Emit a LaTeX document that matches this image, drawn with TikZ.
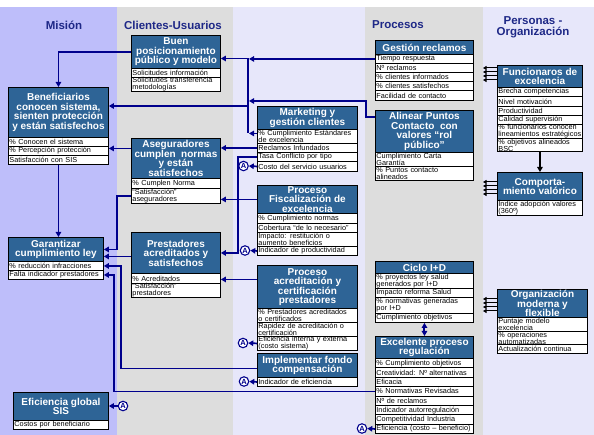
\documentclass[tikz,border=0pt]{standalone}
\usepackage{fontspec}
\setmainfont{Liberation Sans}
\usetikzlibrary{arrows.meta,calc}

\definecolor{misionbg}{RGB}{190,190,250}
\definecolor{graybg}{RGB}{221,221,221}
\definecolor{palebg}{RGB}{231,231,250}
\definecolor{titlefill}{RGB}{46,100,150}
\definecolor{navy}{RGB}{0,0,140}
\definecolor{headblue}{RGB}{30,40,135}

\begin{document}
\begin{tikzpicture}[x=1pt,y=-1pt,
  ttl/.style={anchor=north west, draw=black, line width=0.9pt, fill=titlefill,
    text=white, font=\bfseries\fontsize{10}{9.5}\selectfont, align=center, inner sep=0pt},
  row/.style={anchor=north west, draw=black, line width=0.9pt, fill=white,
    font=\fontsize{7.3}{7}\selectfont, align=left, inner xsep=1pt, inner ysep=0pt},
  rowM/.style={row, text width=98pt},
  rowG/.style={row, text width=93pt},
  rowC/.style={row, text width=87pt},
  rowP/.style={row, text width=98pt},
  rowR/.style={row, text width=96pt},
  rowF/.style={row, text width=83pt},
  rowO/.style={row, text width=88pt},
  head/.style={text=headblue, font=\bfseries\fontsize{11.5}{11}\selectfont, align=center, inner sep=0pt},
  acirc/.style={circle, draw=navy, line width=1.1pt, fill=white, text=navy,
    font=\bfseries\fontsize{7.5}{7}\selectfont, inner sep=0pt, minimum size=9.5pt},
  tip/.tip={Triangle[length=5pt,width=5.5pt]},
  conn/.style={draw=navy, line width=1.7pt, -tip},
  busline/.style={draw=navy, line width=1.7pt},
  dconn/.style={draw=navy, line width=2pt, tip-tip},
  blk/.style={draw=black, line width=1.6pt, -tip},
  stub/.style={draw=black, line width=1pt, -{Triangle[length=3.5pt,width=4pt]}}
]
\useasboundingbox (0,0) rectangle (594,435);

% column backgrounds
\fill[white] (0,0) rectangle (594,435);
\fill[misionbg] (0,7) rectangle (117,435);
\fill[graybg] (117,7) rectangle (233,435);
\fill[palebg] (233,7) rectangle (365,435);
\fill[graybg] (365,7) rectangle (483,435);
\fill[palebg] (483,7) rectangle (594,435);

% column headings
\node[head] (hmision) at (64,25) {Misión};
\node[head] (hclientes) at (173,25) {Clientes-Usuarios};
\node[head] (hprocesos) at (398,25) {Procesos};
\node[head] (hpersonas) at (533,27.5) {Personas -\\Organización};

% ---------- Misión ----------
\node[ttl, minimum width=100pt, minimum height=50pt] (benef) at (8,87)
  {Beneficiarios\\conocen sistema,\\sienten protección\\y están satisfechos};
\node[rowM, minimum height=9pt] (benef1) at (8,137) {\% Conocen el sistema};
\node[rowM, minimum height=9pt] (benef2) at (8,146) {\% Percepción protección};
\node[rowM, minimum height=9pt] (benef3) at (8,155) {Satisfacción con SIS};

\node[ttl, minimum width=95pt, minimum height=24pt] (garant) at (8,237)
  {Garantizar\\cumplimiento ley};
\node[rowG, minimum height=9pt] (garant1) at (8,261) {\% reducción infracciones};
\node[rowG, minimum height=9pt] (garant2) at (8,270) {Falta indicador prestadores};

\node[ttl, minimum width=95pt, minimum height=28pt] (efic) at (13,392)
  {Eficiencia global\\SIS};
\node[rowG, minimum height=9pt] (efic1) at (13,420) {Costos por beneficiario};

% ---------- Clientes-Usuarios ----------
\node[ttl, minimum width=89pt, minimum height=33pt] (buen) at (131,35)
  {Buen\\posicionamiento\\público y modelo};
\node[rowC, minimum height=9pt] (buen1) at (131,68) {Solicitudes información};
\node[rowC, minimum height=14pt] (buen2) at (131,77) {Solicitudes transferencia\\metodologías};

\node[ttl, minimum width=89pt, minimum height=40pt] (aseg) at (131,138)
  {Aseguradores\\cumplen\ \ normas\\y están\\satisfechos};
\node[rowC, minimum height=10pt] (aseg1) at (131,178) {\% Cumplen Norma};
\node[rowC, minimum height=15pt] (aseg2) at (131,188) {“Satisfacción”\\aseguradores};

\node[ttl, minimum width=89pt, minimum height=41pt] (prest) at (131,232)
  {Prestadores\\acreditados y\\satisfechos};
\node[rowC, minimum height=10pt] (prest1) at (131,273) {\% Acreditados};
\node[rowC, minimum height=14pt] (prest2) at (131,283) {“Satisfacción”\\prestadores};

% ---------- Procesos (first column) ----------
\node[ttl, minimum width=100pt, minimum height=23pt] (mkt) at (257,106)
  {Marketing y\\gestión clientes};
\node[rowP, minimum height=14pt] (mkt1) at (257,129) {\% Cumplimiento Estándares\\de excelencia};
\node[rowP, minimum height=9pt] (mkt2) at (257,143) {Reclamos Infundados};
\node[rowP, minimum height=9pt] (mkt3) at (257,152) {Tasa Conflicto por tipo};
\node[rowP, minimum height=10pt] (mkt4) at (257,161) {Costo del servicio usuarios};

\node[ttl, minimum width=100pt, minimum height=28pt] (fisc) at (257,185)
  {Proceso\\Fiscalización de\\excelencia};
\node[rowP, minimum height=10pt] (fisc1) at (257,213) {\% Cumplimiento normas};
\node[rowP, minimum height=9pt] (fisc2) at (257,223) {Cobertura “de lo necesario”};
\node[rowP, minimum height=14pt] (fisc3) at (257,232) {Impacto: restitución o\\aumento beneficios};
\node[rowP, minimum height=9pt] (fisc4) at (257,246) {Indicador de productividad};

\node[ttl, minimum width=100pt, minimum height=43pt] (acred) at (257,265)
  {Proceso\\acreditación y\\certificación\\prestadores};
\node[rowP, minimum height=14pt] (acred1) at (257,308) {\% Prestadores acreditados\\o certificados};
\node[rowP, minimum height=14pt] (acred2) at (257,322) {Rapidez de acreditación o\\certificación};
\node[rowP, minimum height=14pt] (acred3) at (257,336) {Eficiencia interna y externa\\(costo sistema)};

\node[ttl, minimum width=100pt, minimum height=24pt] (impl) at (257,353)
  {Implementar fondo\\compensación};
\node[rowP, minimum height=9pt] (impl1) at (257,377) {Indicador de eficiencia};

% ---------- Procesos (second column) ----------
\node[ttl, minimum width=98pt, minimum height=14pt] (gest) at (375,40) {Gestión reclamos};
\node[rowR, minimum height=9pt] (gest1) at (375,54) {Tiempo respuesta};
\node[rowR, minimum height=9pt] (gest2) at (375,63) {Nº reclamos};
\node[rowR, minimum height=9pt] (gest3) at (375,72) {\% clientes informados};
\node[rowR, minimum height=9pt] (gest4) at (375,81) {\% clientes satisfechos};
\node[rowR, minimum height=10pt] (gest5) at (375,90) {Facilidad de contacto};

\node[ttl, minimum width=98pt, minimum height=42pt] (alin) at (375,110)
  {Alinear Puntos\\Contacto\ \ con\\valores “rol\\público”};
\node[rowR, minimum height=14pt] (alin1) at (375,152) {Cumplimiento Carta\\Garantía};
\node[rowR, minimum height=14pt] (alin2) at (375,166) {\% Puntos contacto\\alineados};

\node[ttl, minimum width=98pt, minimum height=12pt] (ciclo) at (375,261) {Ciclo I+D};
\node[rowR, minimum height=15pt] (ciclo1) at (375,273) {\% proyectos ley salud\\generados por I+D};
\node[rowR, minimum height=9pt] (ciclo2) at (375,288) {Impacto reforma Salud};
\node[rowR, minimum height=16pt] (ciclo3) at (375,297) {\% normativas generadas\\por I+D};
\node[rowR, minimum height=9pt] (ciclo4) at (375,313) {Cumplimiento objetivos};

\node[ttl, minimum width=98pt, minimum height=22pt] (exc) at (375,336)
  {Excelente proceso\\regulación};
\node[rowR, minimum height=9.4pt] (exc1) at (375,358) {\% Cumplimiento objetivos};
\node[rowR, minimum height=9.4pt] (exc2) at (375,367.4) {Creatividad: Nº alternativas};
\node[rowR, minimum height=9.4pt] (exc3) at (375,376.8) {Eficacia};
\node[rowR, minimum height=9.4pt] (exc4) at (375,386.2) {\% Normativas Revisadas};
\node[rowR, minimum height=9.4pt] (exc5) at (375,395.6) {Nº de reclamos};
\node[rowR, minimum height=9.4pt] (exc6) at (375,405) {Indicador autorregulación};
\node[rowR, minimum height=9.4pt] (exc7) at (375,414.4) {Competitividad Industria};
\node[rowR, minimum height=9.4pt] (exc8) at (375,423.8) {Eficiencia (costo – beneficio)};

% ---------- Personas - Organización ----------
\node[ttl, minimum width=85pt, minimum height=22pt] (func) at (497,65)
  {Funcionaros de\\excelencia};
\node[rowF, minimum height=9pt] (func1) at (497,87) {Brecha competencias};
\node[rowF, minimum height=10pt] (func2) at (497,96) {Nivel motivación};
\node[rowF, minimum height=9pt] (func3) at (497,106) {Productividad};
\node[rowF, minimum height=9pt] (func4) at (497,115) {Calidad supervisión};
\node[rowF, minimum height=14pt] (func5) at (497,124) {\% funcionarios conocen\\lineamientos estratégicos};
\node[rowF, minimum height=13pt] (func6) at (497,138) {\% objetivos alineados\\BSC};

\node[ttl, minimum width=85pt, minimum height=28pt] (comp) at (497,172)
  {Comporta-\\miento valórico};
\node[rowF, minimum height=15pt] (comp1) at (497,200) {Índice adopción valores\\(360º)};

\node[ttl, minimum width=90pt, minimum height=28pt] (orga) at (497,289)
  {Organización\\moderna y\\flexible};
\node[rowO, minimum height=14pt] (orga1) at (497,317) {Puntaje modelo\\excelencia};
\node[rowO, minimum height=13pt] (orga2) at (497,331) {\% operaciones\\automatizadas};
\node[rowO, minimum height=9pt] (orga3) at (497,344) {Actualización continua};

% ---------- "A" markers ----------
\node[acirc] (aMkt) at (243.5,166) {A};
\node[acirc] (aFisc) at (245,250.5) {A};
\node[acirc] (aAcred) at (243,343) {A};
\node[acirc] (aImpl) at (244,381.5) {A};
\node[acirc] (aEfic) at (123,406) {A};
\node[acirc] (aExc) at (362,428.5) {A};

% ---------- connectors ----------
% collector bus feeding Buen posicionamiento and Beneficiarios
\coordinate (busTop) at (248,58.5);
\coordinate (busBot) at (248,133);
\coordinate (busIn) at (249,0);
\coordinate (busB) at (248,106);
\draw[busline] (busTop) -- (busBot);
\draw[conn] (gest1.west) -- (gest1.west -| busIn);
\coordinate (alinA) at ([yshift=-7pt]alin.north west);
\coordinate (alinB) at (366,101);
\draw[conn] (alinA) -| (alinB) -- (alinB -| busIn);
\coordinate (mktA) at ([yshift=3pt]mkt1.west);
\draw[conn] (mktA) -- (mktA -| busIn);
\draw[conn] (busTop) -- (busTop -| buen.east);
\draw[conn] (busB) -- (busB -| benef.east);

% Clientes-Usuarios to Misión
\draw[conn] (buen.west) -| (benef.north);
\coordinate (asegL) at ([yshift=10pt]aseg.west);
\draw[conn] (asegL) -- (asegL -| benef.east);
\draw[conn] (benef3.south) -- (benef3.south |- garant.north);
\coordinate (v117) at (117,0);
\draw[conn] (aseg2.west) -| (v117 |- garant.east) -- (garant.east);
\coordinate (prestL) at ([yshift=-3.5pt]prest.west);
\draw[conn] (prestL) -- (prestL -| garant.east);

% Procesos to Clientes-Usuarios
\draw[conn] (mkt2.west) -- (mkt2.west -| aseg.east);
\coordinate (v238) at (238,0);
\draw[conn] (mkt3.west) -| (v238 |- prest.east) -- (prest.east);
\draw[conn] (fisc.west) -- (fisc.west -| aseg2.east);
\coordinate (acredL) at ([yshift=7.5pt]acred.west);
\draw[conn] (acredL) -- (acredL -| prest1.east);

% Procesos to Garantizar cumplimiento ley
\coordinate (implL) at ([yshift=-3pt]impl.west);
\coordinate (v121) at (121,0);
\draw[conn] (implL) -| (v121 |- garant1.east) -- (garant1.east);
\coordinate (v114) at (114,0);
\draw[conn] (exc4.west) -| (v114 |- garant2.east) -- (garant2.east);

% indicators tagged "A"
\draw[conn] (mkt4.west) -- (aMkt.east);
\draw[conn] (fisc4.west) -- (aFisc.east);
\draw[conn] (acred3.west) -- (aAcred.east);
\draw[conn] (impl1.west) -- (aImpl.east);
\draw[conn] (exc8.west) -- (aExc.east);
\draw[conn] (aEfic.west) -- (aEfic.west -| efic.east);

% I+D and regulation
\draw[dconn] (ciclo4.south) -- (exc.north);

% Personas - Organización
\draw[blk] (func6.south) -- (comp.north);
\coordinate (stubx) at (483,0);
\foreach \d in {3,7,11,15} {
  \coordinate (fs) at ([yshift=-\d pt]func.north west);
  \draw[stub] (fs) -- (fs -| stubx);
}
\foreach \d in {10,14,18,22} {
  \coordinate (cs) at ([yshift=-\d pt]comp.north west);
  \draw[stub] (cs) -- (cs -| stubx);
}
\foreach \d in {10,14,18,22} {
  \coordinate (os) at ([yshift=-\d pt]orga.north west);
  \draw[stub] (os) -- (os -| stubx);
}
\end{tikzpicture}
\end{document}
